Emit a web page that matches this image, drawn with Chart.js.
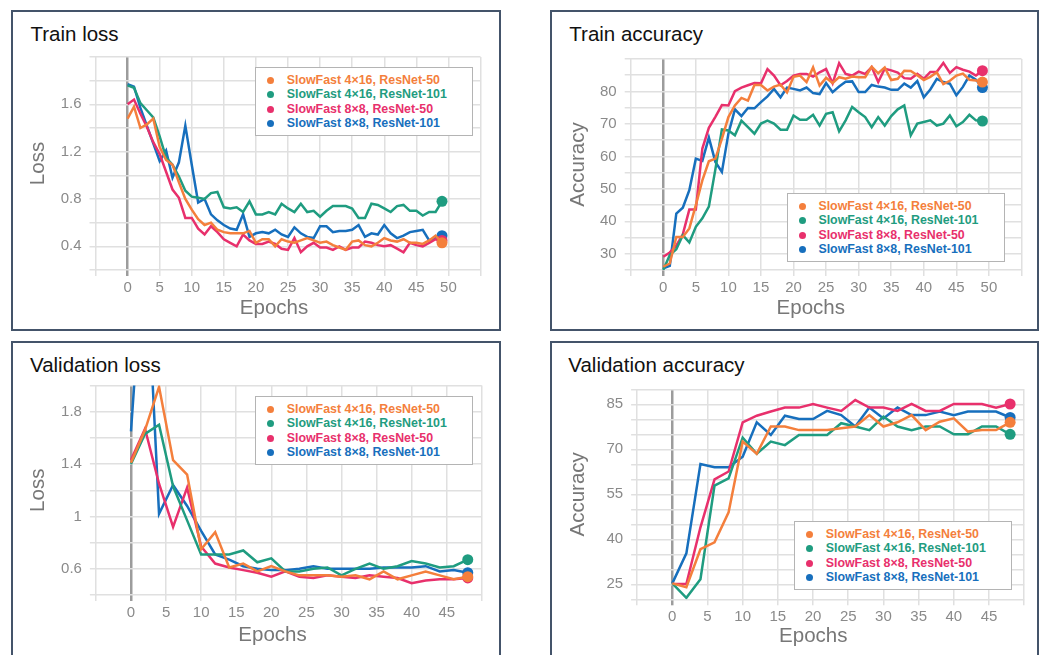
<!DOCTYPE html>
<html>
<head>
<meta charset="utf-8">
<script src="https://cdn.jsdelivr.net/npm/chart.js@4.4.1/dist/chart.umd.min.js"></script>
<style>
  html, body { margin: 0; padding: 0; background: #fff; }
  body { position: relative; width: 1043px; height: 655px; overflow: hidden; font-family: 'Liberation Sans', Arial, sans-serif; }
  .panel { position: absolute; border: 2px solid #44546a; box-sizing: border-box; }
  .panel-title { position: absolute; font-size: 20.5px; line-height: 1; color: #111; white-space: nowrap; }
  .chart-box { position: absolute; }
  .x-title { position: absolute; font-size: 20.5px; line-height: 1; color: #777; white-space: nowrap; transform: translateX(-50%); }
  .legend { position: absolute; width: 218px; height: 69px; border: 1px solid #b4b4b4; background: #fff; box-sizing: border-box; }
  .legend-row { position: absolute; left: 0; height: 14.5px; line-height: 14.5px; font-size: 12.4px; font-weight: bold; white-space: nowrap; }
  .legend-dot { position: absolute; width: 7px; height: 7px; border-radius: 50%; top: 3.7px; }
  .legend-text { position: absolute; }
</style>
</head>
<body>
<script>
// epochs (x values)
const trainEpochs = [0,1,2,3,4,5,6,7,8,9,10,11,12,13,14,15,16,17,18,19,20,21,22,23,24,
  25,26,27,28,29,30,31,32,33,34,35,36,37,38,39,40,41,42,43,44,45,46,47,48,49];
const valEpochs = [0,2,4,6,8,10,12,14,16,18,20,22,24,26,28,30,32,34,36,38,40,42,44,46,48];

const seriesNames = ['SlowFast 4×16, ResNet-50', 'SlowFast 4×16, ResNet-101', 'SlowFast 8×8, ResNet-50', 'SlowFast 8×8, ResNet-101'];
const seriesColors = ['#f47f3c', '#1f9c80', '#e8306c', '#176fbd'];

// tick labels
const trainEpochTicks = [0,5,10,15,20,25,30,35,40,45,50];
const valEpochTicks = [0,5,10,15,20,25,30,35,40,45];
const trainLossTickLabels = [0.4, 0.8, 1.2, 1.6];
const trainAccTickLabels = [30, 40, 50, 60, 70, 80];
const valLossTickLabels = [0.6, 1, 1.4, 1.8];
const valAccTickLabels = [25, 40, 55, 70, 85];

// train loss
const trainLoss4x16R50 = [1.48,1.58,1.40,1.43,1.48,1.24,1.13,1.09,0.94,0.80, 0.71,0.63,0.58,0.60,0.54,0.52,0.51,0.51,0.51,0.53,
  0.43,0.46,0.46,0.40,0.46,0.44,0.43,0.45,0.47,0.45, 0.43,0.44,0.41,0.39,0.37,0.44,0.45,0.41,0.40,0.43,
  0.47,0.45,0.44,0.46,0.43,0.43,0.42,0.45,0.49,0.43];
const trainLoss4x16R101 = [1.76,1.74,1.61,1.55,1.49,1.33,1.15,1.09,0.99,0.87, 0.82,0.81,0.80,0.85,0.86,0.73,0.72,0.73,0.69,0.78,
  0.67,0.67,0.69,0.67,0.76,0.72,0.69,0.76,0.69,0.70, 0.65,0.70,0.74,0.74,0.74,0.72,0.64,0.64,0.76,0.75,
  0.72,0.69,0.74,0.75,0.70,0.70,0.66,0.69,0.69,0.78];
const trainLoss8x8R50 = [1.60,1.64,1.52,1.41,1.28,1.18,1.03,0.88,0.81,0.64, 0.64,0.55,0.50,0.57,0.52,0.46,0.43,0.40,0.50,0.45,
  0.42,0.42,0.44,0.42,0.38,0.37,0.47,0.35,0.40,0.43, 0.39,0.39,0.37,0.40,0.37,0.39,0.39,0.44,0.43,0.41,
  0.40,0.41,0.38,0.35,0.43,0.41,0.40,0.43,0.46,0.45];
const trainLoss8x8R101 = [1.77,1.75,1.57,1.42,1.27,1.12,1.21,0.98,1.11,1.42, 1.09,0.77,0.80,0.67,0.62,0.58,0.55,0.54,0.67,0.48,
  0.51,0.52,0.51,0.54,0.50,0.48,0.56,0.51,0.48,0.47, 0.57,0.57,0.52,0.53,0.53,0.54,0.58,0.48,0.51,0.50,
  0.58,0.51,0.47,0.49,0.52,0.53,0.54,0.45,0.47,0.49];

// train accuracy
const trainAcc4x16R50 = [26.0,27.0,35.2,35.2,37.8,45.0,52.6,58.5,59.3,65.4, 72.1,75.7,78.0,77.2,82.0,82.0,80.3,81.5,82.1,79.7,
  84.5,84.9,82.9,87.4,81.8,84.2,82.6,84.4,83.9,84.6, 84.4,84.4,87.6,85.6,87.4,83.5,83.9,86.4,86.3,85.0,
  83.5,84.5,85.9,82.3,83.3,84.9,85.5,83.6,83.4,82.9];
const trainAcc4x16R101 = [25.0,29.6,31.4,35.7,33.5,38.3,40.9,44.5,56.0,68.3, 68.0,66.5,71.0,69.0,67.0,70.1,71.0,70.1,68.2,68.2,
  72.6,71.3,71.3,72.8,69.5,73.1,73.6,67.7,71.1,75.2, 73.6,72.1,69.0,72.1,69.5,72.4,74.5,75.7,66.5,70.1,
  70.6,71.1,69.5,70.1,72.6,69.3,70.6,72.8,71.1,70.9];
const trainAcc8x8R50 = [29.1,30.4,32.5,36.0,43.6,43.6,62.4,68.8,72.2,75.8, 75.7,80.1,81.2,81.9,82.6,82.5,86.9,84.9,81.9,83.2,
  84.9,85.4,85.4,84.6,85.9,86.9,82.5,88.7,85.4,84.9, 86.1,85.4,87.5,82.9,87.0,86.5,85.8,84.1,83.9,85.4,
  83.9,86.0,86.1,88.8,85.7,87.5,86.7,86.1,84.9,86.4];
const trainAcc8x8R101 = [25.5,26.3,42.4,44.2,49.6,59.3,58.6,65.8,58.3,55.2, 67.0,74.5,72.4,74.9,74.8,76.7,78.5,80.8,78.2,81.2,
  80.8,80.3,81.2,79.5,79.2,82.6,79.8,81.5,83.0,83.1, 79.8,79.8,82.0,81.5,81.2,80.5,80.5,82.4,81.2,83.2,
  78.2,80.6,83.9,82.9,82.4,78.8,81.4,84.9,83.6,81.2];

// validation loss
const valLoss4x16R50 = [1.41,1.66,1.99,1.43,1.32, 0.75,0.88,0.61,0.64,0.58, 0.62,0.58,0.55,0.55,0.55, 0.54,0.55,0.52,0.58,0.52, 0.55,0.58,0.55,0.52,0.54];
const valLoss4x16R101 = [1.40,1.63,1.70,1.23,0.97, 0.71,0.71,0.71,0.74,0.65, 0.68,0.58,0.58,0.60,0.61, 0.55,0.60,0.64,0.60,0.62, 0.66,0.64,0.61,0.62,0.67];
const valLoss8x8R50 = [1.43,1.67,1.25,0.92,1.22, 0.77,0.64,0.61,0.59,0.57, 0.54,0.58,0.54,0.53,0.55, 0.54,0.53,0.55,0.54,0.53, 0.49,0.51,0.52,0.52,0.53];
const valLoss8x8R101 = [1.65,3.20,1.02,1.24,1.08, 0.89,0.71,0.67,0.62,0.60, 0.59,0.59,0.60,0.62,0.60, 0.60,0.60,0.60,0.61,0.61, 0.61,0.62,0.58,0.59,0.57];

// validation accuracy
const valAcc4x16R50 = [25.3,24.0,36.7,39.0,49.0, 72.6,68.5,77.6,77.6,76.4, 76.4,76.4,77.0,77.6,81.4, 77.6,79.0,81.4,76.4,79.2, 80.3,75.9,76.4,76.4,79.0];
const valAcc4x16R101 = [25.3,20.5,26.7,57.9,60.3, 73.9,68.5,72.6,71.4,74.8, 74.8,74.8,78.7,77.6,76.4, 80.9,77.6,76.4,77.6,77.6, 75.0,75.0,77.6,77.6,75.0];
const valAcc8x8R50 = [25.1,25.1,44.0,60.0,62.6, 79.0,81.2,82.6,83.9,83.9, 85.1,83.9,82.8,86.4,83.9, 83.9,82.8,85.1,82.8,82.8, 85.1,85.1,85.1,83.9,85.1];
const valAcc8x8R101 = [25.3,35.3,65.1,64.0,64.0, 67.5,79.0,74.8,81.2,80.1, 80.1,82.8,81.4,77.6,83.9, 80.3,83.9,81.4,81.4,82.6, 81.4,82.6,82.6,82.6,80.6];

const fontFamily = "'Liberation Sans', Arial, sans-serif";
const gridColor = '#e0e0e0';
const tickColor = '#8a8a8a';
const axisTitleColor = '#777';

// page layout of the four panels (absolute px)
const panels = [
  {
    title: 'Train loss', yTitle: 'Loss', epochs: trainEpochs,
    series: [trainLoss4x16R50, trainLoss4x16R101, trainLoss8x8R50, trainLoss8x8R101],
    xTicks: trainEpochTicks, yTicks: trainLossTickLabels,
    xMin: -5, xMax: 55, yMin: 0.2, yMax: 2.0, yStep: 0.2,
    box: { left: 11, top: 10, width: 490, height: 321 },
    plot: { left: 95.5, top: 57, right: 480.5, bottom: 270 },
    titleAt: { left: 30.5, top: 24.3 }, yTitleX: 38,
    xTitleAt: { x: 274, top: 296.7 }, legendAt: { left: 255, top: 66.7 }
  },
  {
    title: 'Train accuracy', yTitle: 'Accuracy', epochs: trainEpochs,
    series: [trainAcc4x16R50, trainAcc4x16R101, trainAcc8x8R50, trainAcc8x8R101],
    xTicks: trainEpochTicks, yTicks: trainAccTickLabels,
    xMin: -5, xMax: 55, yMin: 25, yMax: 90, yStep: 5,
    box: { left: 550, top: 10, width: 489, height: 321 },
    plot: { left: 630.7, top: 59, right: 1021.5, bottom: 270 },
    titleAt: { left: 569.3, top: 24.3 }, yTitleX: 578.3,
    xTitleAt: { x: 810.8, top: 296.7 }, legendAt: { left: 786.7, top: 192.7 }
  },
  {
    title: 'Validation loss', yTitle: 'Loss', epochs: valEpochs,
    series: [valLoss4x16R50, valLoss4x16R101, valLoss8x8R50, valLoss8x8R101],
    xTicks: valEpochTicks, yTicks: valLossTickLabels,
    xMin: -5, xMax: 50, yMin: 0.4, yMax: 2.0, yStep: 0.2,
    box: { left: 11, top: 341, width: 490, height: 330 },
    plot: { left: 95.9, top: 385.5, right: 481.8, bottom: 595 },
    titleAt: { left: 30, top: 355 }, yTitleX: 38.3,
    xTitleAt: { x: 272.5, top: 623.7 }, legendAt: { left: 255, top: 395.7 }
  },
  {
    title: 'Validation accuracy', yTitle: 'Accuracy', epochs: valEpochs,
    series: [valAcc4x16R50, valAcc4x16R101, valAcc8x8R50, valAcc8x8R101],
    xTicks: valEpochTicks, yTicks: valAccTickLabels,
    xMin: -5, xMax: 50, yMin: 20, yMax: 90, yStep: 5,
    box: { left: 550, top: 341, width: 489, height: 330 },
    plot: { left: 637.1, top: 389.3, right: 1024.2, bottom: 599.3 },
    titleAt: { left: 568.3, top: 355 }, yTitleX: 578.3,
    xTitleAt: { x: 813.3, top: 625.3 }, legendAt: { left: 794, top: 520.7 }
  }
];

function place(el, left, top, width, height) {
  el.style.left = left + 'px';
  el.style.top = top + 'px';
  if (width !== undefined) el.style.width = width + 'px';
  if (height !== undefined) el.style.height = height + 'px';
}

function makeDatasets(epochs, seriesList) {
  return seriesList.map((values, i) => ({
    label: seriesNames[i],
    data: epochs.map((e, j) => ({ x: e, y: values[j] })),
    borderColor: seriesColors[i],
    backgroundColor: seriesColors[i],
    borderWidth: 2.5,
    pointRadius: ctx => (ctx.dataIndex === values.length - 1 ? 5.5 : 0),
    pointBorderWidth: 0,
    pointHoverRadius: 0,
    tension: 0,
    fill: false
  }));
}

const hasTick = (list, v) => list.some(t => Math.abs(t - v) < 1e-6);

panels.forEach(p => {
  // box and title
  const box = document.createElement('div');
  box.className = 'panel';
  place(box, p.box.left, p.box.top, p.box.width, p.box.height);
  document.body.appendChild(box);

  const title = document.createElement('div');
  title.className = 'panel-title';
  title.textContent = p.title;
  place(title, p.titleAt.left, p.titleAt.top);
  document.body.appendChild(title);

  // chart canvas inside the border
  const cx = p.box.left + 2, cy = p.box.top + 2;
  const cw = p.box.width - 4, ch = p.box.height - 4;
  const holder = document.createElement('div');
  holder.className = 'chart-box';
  place(holder, cx, cy, cw, ch);
  const canvas = document.createElement('canvas');
  holder.appendChild(canvas);
  document.body.appendChild(holder);

  const plotL = p.plot.left - cx, plotT = p.plot.top - cy;
  const plotR = p.plot.right - cx, plotB = p.plot.bottom - cy;

  new Chart(canvas, {
    type: 'line',
    data: { datasets: makeDatasets(p.epochs, p.series) },
    options: {
      responsive: true,
      maintainAspectRatio: false,
      animation: false,
      layout: { padding: { left: 0, top: plotT, right: cw - plotR, bottom: 0 } },
      plugins: { legend: { display: false }, tooltip: { enabled: false } },
      scales: {
        x: {
          type: 'linear',
          min: p.xMin,
          max: p.xMax,
          ticks: {
            stepSize: 5, autoSkip: false, maxRotation: 0, padding: 3,
            color: tickColor, font: { family: fontFamily, size: 15 },
            callback: v => (hasTick(p.xTicks, v) ? String(v) : '')
          },
          grid: {
            color: ctx => (ctx.tick && ctx.tick.value === 0 ? '#9c9c9c' : gridColor),
            lineWidth: ctx => (ctx.tick && ctx.tick.value === 0 ? 2.5 : 1.5),
            tickLength: 6
          },
          border: { display: false },
          afterFit: s => { s.height = ch - plotB; }
        },
        y: {
          min: p.yMin,
          max: p.yMax,
          ticks: {
            stepSize: p.yStep, autoSkip: false, padding: 8,
            color: tickColor, font: { family: fontFamily, size: 15 },
            callback: v => (hasTick(p.yTicks, v) ? String(Number(v.toFixed(1))) : '')
          },
          grid: { color: gridColor, lineWidth: 1.5, tickLength: 6 },
          border: { display: false },
          title: {
            display: true,
            text: p.yTitle,
            color: axisTitleColor,
            font: { family: fontFamily, size: 20.5 },
            padding: { top: p.yTitleX - cx - 12.3, bottom: 0 }
          },
          afterFit: s => { s.width = plotL; }
        }
      }
    }
  });

  // x axis title
  const xTitle = document.createElement('div');
  xTitle.className = 'x-title';
  xTitle.textContent = 'Epochs';
  place(xTitle, p.xTitleAt.x, p.xTitleAt.top);
  document.body.appendChild(xTitle);

  // legend box inside the plot
  const legend = document.createElement('div');
  legend.className = 'legend';
  place(legend, p.legendAt.left, p.legendAt.top);
  seriesNames.forEach((name, i) => {
    const row = document.createElement('div');
    row.className = 'legend-row';
    row.style.top = (5.3 + i * 14.45) + 'px';
    const dot = document.createElement('span');
    dot.className = 'legend-dot';
    dot.style.left = '11px';
    dot.style.background = seriesColors[i];
    const text = document.createElement('span');
    text.className = 'legend-text';
    text.style.left = '30.7px';
    text.style.color = seriesColors[i];
    text.textContent = name;
    row.appendChild(dot);
    row.appendChild(text);
    legend.appendChild(row);
  });
  document.body.appendChild(legend);
});
</script>
</body>
</html>
